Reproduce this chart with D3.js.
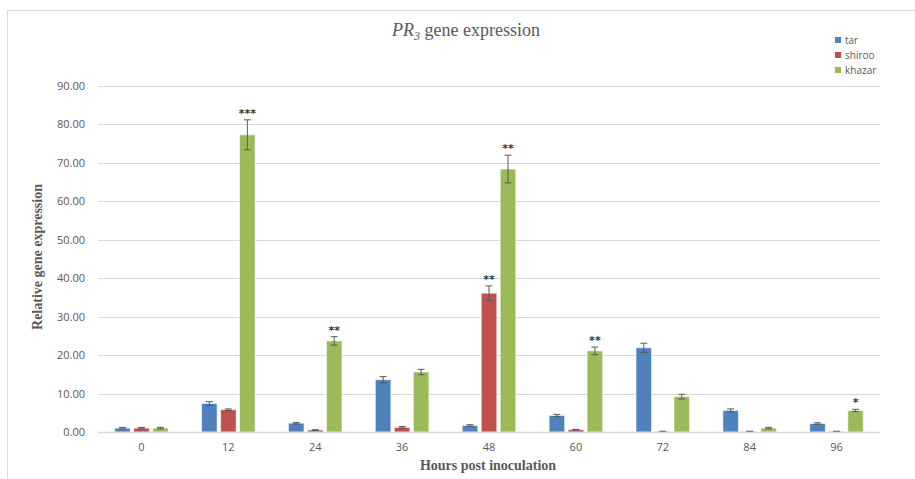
<!DOCTYPE html>
<html><head><meta charset="utf-8">
<script src="https://cdn.jsdelivr.net/npm/d3@7"></script>
<style>body{margin:0;background:#fff}svg{display:block}</style>
</head><body>
<svg id="chart" width="915" height="479"></svg>
<script>
const categories = ["0","12","24","36","48","60","72","84","96"];
const seriesNames = ["tar","shiroo","khazar"];
const tarValues    = [1.0, 7.4, 2.3, 13.6, 1.7, 4.3, 21.9, 5.6, 2.2];
const shirooValues = [1.0, 5.8, 0.5, 1.2, 36.1, 0.6, 0.1, 0.1, 0.1];
const khazarValues = [1.0, 77.3, 23.7, 15.6, 68.4, 21.1, 9.2, 1.0, 5.6];
const tarErrors    = [0.2, 0.5, 0.2, 0.8, 0.2, 0.3, 1.2, 0.4, 0.2];
const shirooErrors = [0.2, 0.2, 0.1, 0.2, 1.9, 0.1, 0.1, 0.1, 0.1];
const khazarErrors = [0.2, 3.9, 1.1, 0.7, 3.6, 1.0, 0.6, 0.2, 0.3];
const tarStars     = ["","","","","","","","",""];
const shirooStars  = ["","","","","**","","","",""];
const khazarStars  = ["","***","**","","**","**","","","*"];
const yTicks = [0,10,20,30,40,50,60,70,80,90];
const colors = ["#4F81BD","#C0504D","#9BBB59"];

const values = [tarValues, shirooValues, khazarValues];
const errors = [tarErrors, shirooErrors, khazarErrors];
const stars = [tarStars, shirooStars, khazarStars];

const svg = d3.select("#chart");
const pLeft = 98, pRight = 880, pTop = 86, pBottom = 432;

// chart border
svg.append("path").attr("d","M7.5,479 V10.5 H915").attr("fill","none").attr("stroke","#d9d9d9").attr("stroke-width",1);

const x = d3.scaleBand().domain(categories).range([pLeft,pRight]).paddingInner(0).paddingOuter(0);
const y = d3.scaleLinear().domain([0,90]).range([pBottom, pTop]);
const barStep = 19, barW = 15.5;
const xs = d3.scaleBand().domain(seriesNames).range([0, barStep*3]).padding(0);

// gridlines
svg.append("g").selectAll("line").data(yTicks.filter(d=>d>0)).join("line")
  .attr("x1",pLeft).attr("x2",pRight)
  .attr("y1",d=>Math.round(y(d))+0.5).attr("y2",d=>Math.round(y(d))+0.5)
  .attr("stroke","#d9d9d9").attr("stroke-width",1);

// y tick labels
const yAxis = d3.axisLeft(y).tickValues(yTicks).tickFormat(d3.format(".2f")).tickSize(0).tickPadding(13);
const gy = svg.append("g").attr("transform",`translate(${pLeft},0)`).call(yAxis);
gy.select(".domain").remove();
gy.selectAll("text").attr("font-family","'Open Sans', 'Liberation Sans', sans-serif").attr("font-size","11px").attr("fill","#595959");

// bars
const groups = svg.append("g").selectAll("g").data(categories).join("g")
  .attr("transform",d=>`translate(${x(d)+ (x.bandwidth()-barStep*3)/2},0)`);

seriesNames.forEach((s,si)=>{
  groups.append("rect")
    .attr("x",(d)=>xs(s)+(barStep-barW)/2)
    .attr("width",barW)
    .attr("y",(d,i)=>y(values[si][i]))
    .attr("height",(d,i)=>pBottom - y(values[si][i]))
    .attr("fill",colors[si])
    .attr("stroke","rgba(255,255,255,0.55)").attr("stroke-width",1);
});

// x axis line
svg.append("line").attr("x1",pLeft).attr("x2",pRight).attr("y1",pBottom+0.5).attr("y2",pBottom+0.5).attr("stroke","#d9d9d9").attr("stroke-width",1.5);

// error bars and stars
seriesNames.forEach((s,si)=>{
  const cx = (d)=>xs(s)+barStep/2;
  groups.append("line")
    .attr("x1",cx).attr("x2",cx)
    .attr("y1",(d,i)=>y(values[si][i]+errors[si][i]))
    .attr("y2",(d,i)=>y(Math.max(0,values[si][i]-errors[si][i])))
    .attr("stroke","#595959").attr("stroke-width",1);
  ["+","-"].forEach(sign=>{
    groups.append("line")
      .attr("x1",d=>cx(d)-3.5).attr("x2",d=>cx(d)+3.5)
      .attr("y1",(d,i)=>y(sign==="+"?values[si][i]+errors[si][i]:Math.max(0,values[si][i]-errors[si][i])))
      .attr("y2",(d,i)=>y(sign==="+"?values[si][i]+errors[si][i]:Math.max(0,values[si][i]-errors[si][i])))
      .attr("stroke","#595959").attr("stroke-width",1);
  });
  groups.append("text")
    .attr("x",cx)
    .attr("y",(d,i)=>y(values[si][i]+errors[si][i]) - 3)
    .attr("text-anchor","middle")
    .attr("font-family","'DejaVu Sans', sans-serif").attr("font-size","11px").attr("font-weight","bold")
    .attr("fill","#333333")
    .text((d,i)=>stars[si][i]);
});

// x tick labels
const xAxis = d3.axisBottom(x).tickSize(0).tickPadding(11);
const gx = svg.append("g").attr("transform",`translate(0,${pBottom})`).call(xAxis);
gx.select(".domain").remove();
gx.selectAll("text").attr("font-family","'Open Sans', 'Liberation Sans', sans-serif").attr("font-size","11px").attr("fill","#595959");

// title
const title = svg.append("text").attr("x",466).attr("y",36).attr("text-anchor","middle")
  .attr("font-family","'Liberation Serif', 'Times New Roman', serif").attr("font-size","18px").attr("fill","#595959");
title.append("tspan").attr("font-style","italic").text("PR");
title.append("tspan").attr("font-style","italic").attr("font-size","12px").attr("dy","4").text("3");
title.append("tspan").attr("dy","-4").text(" gene expression");

// axis titles
svg.append("text").attr("x",488).attr("y",470).attr("text-anchor","middle")
  .attr("font-family","'Liberation Serif', 'Times New Roman', serif").attr("font-size","14px").attr("font-weight","bold").attr("fill","#595959")
  .text("Hours post inoculation");
svg.append("text").attr("transform","translate(42,257) rotate(-90)").attr("text-anchor","middle")
  .attr("font-family","'Liberation Serif', 'Times New Roman', serif").attr("font-size","14px").attr("font-weight","bold").attr("fill","#595959")
  .text("Relative gene expression");

// legend
const lg = svg.append("g").selectAll("g").data(seriesNames).join("g")
  .attr("transform",(d,i)=>`translate(835,${40+i*15})`);
lg.append("rect").attr("x",0).attr("y",-3).attr("width",6).attr("height",6).attr("fill",(d,i)=>colors[i]);
lg.append("text").attr("x",10).attr("y",4).attr("font-family","'Open Sans', 'Liberation Sans', sans-serif").attr("font-size","10px").attr("fill","#595959").text(d=>d);
</script>
</body></html>
